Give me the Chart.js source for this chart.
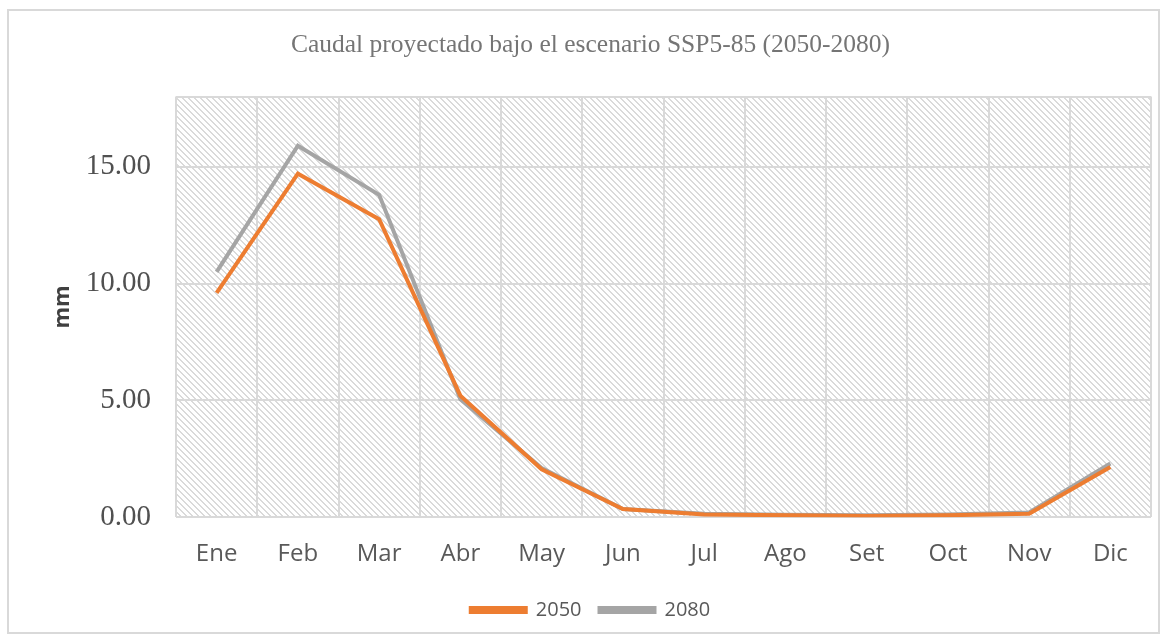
<!DOCTYPE html>
<html><head><meta charset="utf-8">
<script src="https://cdn.jsdelivr.net/npm/chart.js@4.4.1/dist/chart.umd.min.js"></script>
<style>html,body{margin:0;padding:0;background:#fff}#wrap{width:1169px;height:643px;position:relative}</style>
</head><body><div id="wrap"><canvas id="c" width="1169" height="643"></canvas></div>
<script>
const categories = ['Ene','Feb','Mar','Abr','May','Jun','Jul','Ago','Set','Oct','Nov','Dic'];
const s2050 = [9.6, 14.7, 12.75, 5.2, 2.05, 0.35, 0.12, 0.08, 0.05, 0.08, 0.15, 2.15];
const s2080 = [10.5, 15.9, 13.8, 5.05, 2.1, 0.35, 0.15, 0.1, 0.08, 0.12, 0.2, 2.3];
const yTicks = [0, 5, 10, 15];

function makePattern(ctx){
  const n = 6;
  const p = document.createElement('canvas'); p.width = n; p.height = n;
  const g = p.getContext('2d');
  g.fillStyle = '#ffffff'; g.fillRect(0,0,n,n);
  g.fillStyle = '#dadada';
  for (let i=0;i<n;i++){ g.fillRect(i%n, i, 1, 1); g.fillRect((i+1)%n, i, 1, 1); }
  return ctx.createPattern(p,'repeat');
}
const bgPlugin = {
  id:'bg',
  beforeDraw(chart){
    const {ctx, chartArea:a} = chart;
    ctx.save();
    ctx.fillStyle = makePattern(ctx);
    ctx.fillRect(a.left, a.top, a.right-a.left, a.bottom-a.top);
    ctx.strokeStyle = '#d9d9d9'; ctx.lineWidth = 2;
    ctx.strokeRect(8, 10, 1151, 623);
    ctx.restore();
  }
};
new Chart(document.getElementById('c'), {
  type:'line',
  data:{labels:categories, datasets:[
    {label:'2050', data:s2050, borderColor:'#ed7d31', backgroundColor:'#ed7d31', borderWidth:4, pointRadius:0, tension:0},
    {label:'2080', data:s2080, borderColor:'#a5a5a5', backgroundColor:'#a5a5a5', borderWidth:4, pointRadius:0, tension:0}
  ]},
  plugins:[bgPlugin],
  options:{
    responsive:false, animation:false,
    layout:{padding:{left:30, right:18, top:12, bottom:13}},
    plugins:{
      title:{display:true, text:'Caudal proyectado bajo el escenario SSP5-85 (2050-2080)', color:'#757575',
        font:{family:'Liberation Serif', size:25.5, weight:'normal'}, padding:{top:18, bottom:36}},
      legend:{position:'bottom', labels:{color:'#595959', font:{family:'Open Sans', size:20}, boxWidth:55, boxHeight:4, padding:18}},
      tooltip:{enabled:false}
    },
    scales:{
      x:{offset:true, grid:{color:'#d9d9d9', lineWidth:2, offset:true, drawTicks:false}, border:{display:false},
         afterFit(s){ s.height = s.height - 10; },
         ticks:{color:'#595959', font:{family:'Open Sans', size:24}, padding:23}},
      y:{min:0, max:18, grid:{color:'#d9d9d9', lineWidth:2, drawTicks:false}, border:{display:false},
         afterBuildTicks(s){ s.ticks = yTicks.map(v=>({value:v})).concat([{value:18}]); },
         afterFit(s){ s.width = 146; },
         ticks:{color:'#505050', font:{family:'Liberation Serif', size:29}, padding:25,
           callback:(v)=> yTicks.includes(v) ? v.toFixed(2) : ''},
         title:{display:true, text:'mm', color:'#404040', font:{family:'Open Sans', size:22, weight:'bold'}, padding:{top:20, bottom:2}}}
    }
  }
});
</script></body></html>
